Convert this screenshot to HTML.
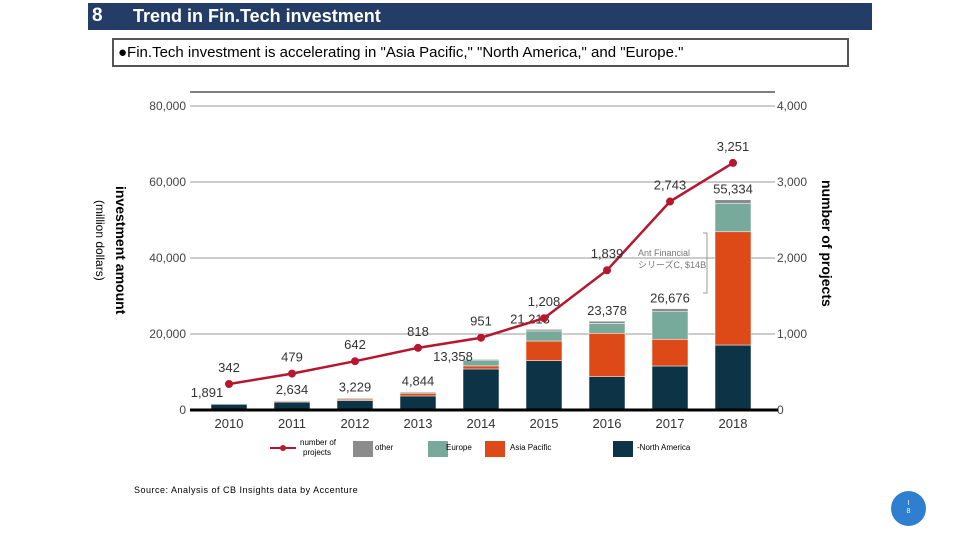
<!DOCTYPE html>
<html><head><meta charset="utf-8"><style>
body{margin:0;width:960px;height:540px;background:#fff;position:relative;overflow:hidden;font-family:"Liberation Sans","Noto Sans CJK JP",sans-serif}
.abs{position:absolute}
</style></head><body>
<div class="abs" style="left:88px;top:3px;width:784px;height:27px;background:#243d66"></div>
<div class="abs" style="left:92px;top:5px;color:#fff;font-weight:bold;font-size:19px">8</div>
<div class="abs" style="left:133px;top:6px;color:#fff;font-weight:bold;font-size:18px">Trend in Fin.Tech investment</div>
<div class="abs" style="left:112px;top:38px;width:729px;height:25px;border:2px solid #555;font-size:15px;line-height:25px;padding-left:4px;box-sizing:content-box">●Fin.Tech investment is accelerating in "Asia Pacific," "North America," and "Europe."</div>
<svg class="abs" style="left:0;top:0" width="960" height="540">
<g id="g"></g>
</svg>
<div class="abs" style="left:134px;top:485px;font-size:9px;letter-spacing:0.5px">Source: Analysis of CB Insights data by Accenture</div>
<div class="abs" style="left:891px;top:491px;width:35px;height:35px;border-radius:50%;background:#2f7fd0;color:#fff;font-size:7px;text-align:center;line-height:8px;padding-top:9px;box-sizing:border-box">I<br>8</div>
<script>
const years=['2010','2011','2012','2013','2014','2015','2016','2017','2018'];
const northAmerica=[1500,2100,2500,3700,10800,13000,8760,11580,17100];
const asiaPacific=[150,250,350,700,800,5150,11420,7020,29800];
const europe=[100,150,250,300,1550,2650,2620,7270,7500];
const other=[141,134,129,144,208,413,578,806,934];
const totalLabels=['1,891','2,634','3,229','4,844','13,358','21,213','23,378','26,676','55,334'];
const projects=[342,479,642,818,951,1208,1839,2743,3251];
const leftTicks=[0,20000,40000,60000,80000];
const rightTicks=[0,1000,2000,3000,4000];
const totalLabelDx=[-22,0,0,0,-28,-14,0,0,0];
const totalLabelDy=[0,0,0,0,8,0,0,0,0];
const NS='http://www.w3.org/2000/svg';
const g=document.getElementById('g');
const y0=410,yTop=106;
const yL=v=>y0-(v/80000)*(y0-yTop);
const yR=v=>y0-(v/4000)*(y0-yTop);
const xC=i=>229+i*63;
function mk(t,a,txt){const e=document.createElementNS(NS,t);for(const k in a)e.setAttribute(k,a[k]);if(txt!==undefined)e.textContent=txt;g.appendChild(e);return e;}
let e=mk('line',{x1:190,x2:775,y1:92,y2:92,stroke:'#000','stroke-width':1});

leftTicks.forEach((v,i)=>{
 if(v>0){e=mk('line',{x1:190,x2:775,y1:yL(v),y2:yL(v),stroke:'#999','stroke-width':1});
 }
 e=mk('text',{x:186,y:yL(v)+4,'text-anchor':'end','font-size':12,fill:'#444'},v.toLocaleString('en-US'));
 
});
rightTicks.forEach((v,i)=>{
 e=mk('text',{x:777,y:yR(v)+4,'font-size':12,fill:'#444'},v.toLocaleString('en-US'));
 
});
const series=[[northAmerica,'#0d3446'],[asiaPacific,'#dd4a17'],[europe,'#78aa9c'],[other,'#8c8c8c']];
years.forEach((yr,i)=>{
 let acc=0;
 series.forEach(([arr,c])=>{
  const a=yL(acc),b=yL(acc+arr[i]);
  e=mk('rect',{x:xC(i)-18,y:b,width:36,height:a-b,fill:c,stroke:'#fff','stroke-width':0.5});
  
  acc+=arr[i];
 });
 e=mk('text',{x:xC(i)+totalLabelDx[i],y:yL(acc)-6+totalLabelDy[i],'text-anchor':'middle','font-size':13,fill:'#333'},totalLabels[i]);
 
 e=mk('text',{x:xC(i),y:428,'text-anchor':'middle','font-size':13,fill:'#333'},yr);
 
});
e=mk('line',{x1:190,x2:778,y1:410,y2:410,stroke:'#000','stroke-width':3});

e=mk('polyline',{points:projects.map((v,i)=>xC(i)+','+yR(v)).join(' '),fill:'none',stroke:'#b5172e','stroke-width':2.5});

projects.forEach((v,i)=>{
 e=mk('circle',{cx:xC(i),cy:yR(v),r:4,fill:'#b5172e'});
 
 e=mk('text',{x:xC(i),y:yR(v)-12,'text-anchor':'middle','font-size':13,fill:'#333'},v.toLocaleString('en-US'));
 
});
e=mk('path',{d:'M703 233 H707 V293 H703',fill:'none',stroke:'#999'});

e=mk('text',{x:638,y:256,'font-size':9,fill:'#777'},'Ant Financial');

e=mk('text',{x:638,y:268,'font-size':9,fill:'#777'},'シリーズC, $14B');

e=mk('text',{transform:'translate(116,186) rotate(90)','font-size':14,'font-weight':'bold'},'investment amount');

e=mk('text',{transform:'translate(96,200) rotate(90)','font-size':12},'(million dollars)');

e=mk('text',{transform:'translate(822,180) rotate(90)','font-size':14,'font-weight':'bold'},'number of projects');

e=mk('line',{x1:270,x2:296,y1:448,y2:448,stroke:'#b5172e','stroke-width':2});

e=mk('circle',{cx:283,cy:448,r:3,fill:'#b5172e'});

e=mk('text',{x:300,y:445,'font-size':8},'number of');

e=mk('text',{x:303,y:455,'font-size':8},'projects');

[[353,'#8c8c8c','other',375],[428,'#78aa9c','Europe',446],[485,'#dd4a17','Asia Pacific',510],[613,'#0d3446','-North America',637]].forEach(([x,c,t,tx])=>{
 e=mk('rect',{x:x,y:441,width:20,height:16,fill:c});
 
 e=mk('text',{x:tx,y:450,'font-size':8},t);
 
});
</script>
</body></html>
